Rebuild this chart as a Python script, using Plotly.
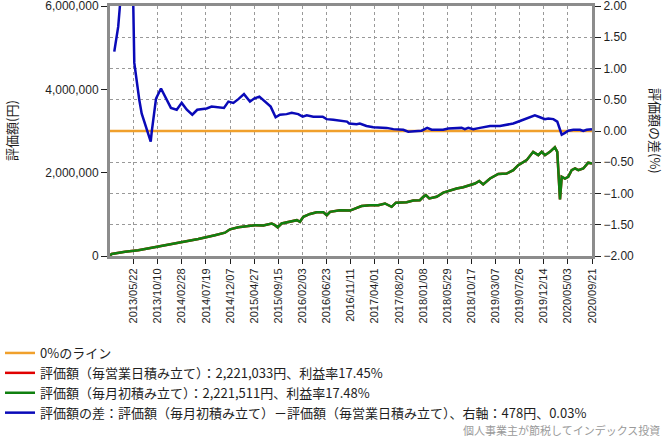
import plotly.graph_objects as go

# ---- data ----
tick_dates = ["2013-05-22", "2013-10-10", "2014-02-28", "2014-07-19", "2014-12-07",
              "2015-04-27", "2015-09-15", "2016-02-03", "2016-06-23", "2016-11-11",
              "2017-04-01", "2017-08-20", "2018-01-08", "2018-05-29", "2018-10-17",
              "2019-03-07", "2019-07-26", "2019-12-14", "2020-05-03", "2020-09-21"]
tick_labels = [d.replace("-", "/") for d in tick_dates]

start_date = "2013-01-04"
end_date = "2020-09-21"

zero_line_dates = [start_date, end_date]
zero_line_values = [0.0, 0.0]

# valuation (monthly accumulation), yen
value_dates = ["2013-01-04", "2013-01-14", "2013-04-02", "2013-06-18", "2013-09-05", "2013-11-22",
               "2014-02-27", "2014-06-04", "2014-09-09", "2014-11-07", "2014-12-06", "2015-01-24",
               "2015-03-24", "2015-05-02", "2015-06-19", "2015-08-07", "2015-08-26", "2015-09-11",
               "2015-10-04", "2015-11-22", "2015-12-21", "2016-01-01", "2016-01-19", "2016-02-08",
               "2016-03-18", "2016-04-26", "2016-06-04", "2016-06-24", "2016-07-13", "2016-09-09",
               "2016-11-07", "2016-12-15", "2017-01-13", "2017-03-03", "2017-04-21", "2017-05-30",
               "2017-07-08", "2017-08-02", "2017-10-04", "2017-11-11", "2017-12-20", "2018-01-09",
               "2018-01-24", "2018-02-13", "2018-03-28", "2018-05-06", "2018-06-14", "2018-07-23",
               "2018-08-30", "2018-10-09", "2018-11-07", "2018-12-02", "2018-12-25", "2019-02-03",
               "2019-03-23", "2019-05-11", "2019-06-19", "2019-07-18", "2019-09-05", "2019-10-13",
               "2019-11-12", "2019-12-02", "2019-12-21", "2020-01-19", "2020-02-17", "2020-03-02",
               "2020-03-08", "2020-03-13", "2020-03-18", "2020-03-28", "2020-04-16", "2020-05-05",
               "2020-05-25", "2020-06-14", "2020-07-03", "2020-08-01", "2020-08-30", "2020-09-21"]
value_monthly = [10000, 50000, 100000, 140000, 200000, 260000,
                 330000, 410000, 500000, 560000, 640000, 690000,
                 720000, 740000, 730000, 780000, 740000, 690000,
                 780000, 820000, 840000, 860000, 820000, 940000,
                 1010000, 1050000, 1050000, 980000, 1060000, 1100000,
                 1090000, 1160000, 1200000, 1220000, 1220000, 1260000,
                 1180000, 1280000, 1290000, 1330000, 1340000, 1420000,
                 1460000, 1380000, 1420000, 1520000, 1570000, 1620000,
                 1650000, 1700000, 1740000, 1800000, 1720000, 1860000,
                 1970000, 1980000, 2060000, 2180000, 2300000, 2500000,
                 2420000, 2500000, 2420000, 2500000, 2610000, 2500000,
                 2140000, 1820000, 1360000, 1900000, 1860000, 1900000,
                 2060000, 2100000, 2060000, 2100000, 2240000, 2221511]
# daily accumulation coincides with the monthly one at this scale
value_daily = value_monthly

# difference (%), right axis
diff_dates = ["2013-01-29", "2013-02-12", "2013-02-21", "2013-03-03", "2013-03-25", "2013-04-25",
              "2013-05-20", "2013-05-26", "2013-06-05", "2013-06-24", "2013-07-08", "2013-07-28",
              "2013-08-16", "2013-08-30", "2013-09-05", "2013-09-20", "2013-09-30", "2013-10-29",
              "2013-12-01", "2013-12-26", "2014-01-29", "2014-02-27", "2014-03-29", "2014-04-30",
              "2014-05-29", "2014-07-23", "2014-08-21", "2014-11-01", "2014-11-27", "2014-12-26",
              "2015-01-24", "2015-02-26", "2015-04-02", "2015-04-26", "2015-05-27", "2015-06-29",
              "2015-08-01", "2015-08-30", "2015-09-24", "2015-11-02", "2015-12-02", "2016-01-09",
              "2016-02-04", "2016-02-28", "2016-04-06", "2016-05-31", "2016-06-23", "2016-08-01",
              "2016-09-28", "2016-10-20", "2016-11-02", "2016-12-15", "2017-01-03", "2017-02-11",
              "2017-03-23", "2017-06-09", "2017-07-18", "2017-09-14", "2017-10-13", "2017-11-21",
              "2017-12-30", "2018-02-01", "2018-02-27", "2018-05-05", "2018-06-04", "2018-08-21",
              "2018-09-09", "2018-09-29", "2018-10-28", "2018-12-06", "2019-02-03", "2019-04-02",
              "2019-05-11", "2019-06-19", "2019-07-28", "2019-09-05", "2019-10-23", "2019-11-22",
              "2019-12-21", "2020-01-09", "2020-02-08", "2020-03-02", "2020-03-18", "2020-03-28",
              "2020-04-16", "2020-05-05", "2020-06-04", "2020-07-13", "2020-08-01", "2020-08-21",
              "2020-09-21"]
diff_values = [1.27, 1.49, 1.67, 2.00, 2.60, 2.50,
               2.02, 1.09, 0.87, 0.50, 0.28, 0.12,
               -0.04, -0.17, -0.01, 0.34, 0.52, 0.68,
               0.50, 0.37, 0.34, 0.45, 0.34, 0.26,
               0.34, 0.36, 0.39, 0.37, 0.47, 0.45,
               0.51, 0.59, 0.47, 0.52, 0.55, 0.47,
               0.39, 0.22, 0.26, 0.27, 0.29, 0.27,
               0.23, 0.25, 0.23, 0.23, 0.19, 0.18,
               0.16, 0.15, 0.12, 0.11, 0.12, 0.08,
               0.06, 0.05, 0.03, 0.02, -0.01, 0.00,
               0.005, 0.05, 0.02, 0.02, 0.04, 0.05,
               0.03, 0.05, 0.03, 0.05, 0.08, 0.08,
               0.10, 0.12, 0.16, 0.20, 0.25, 0.22,
               0.19, 0.20, 0.19, 0.15, 0.02, -0.06,
               -0.03, 0.005, 0.02, 0.02, 0.00, 0.02,
               0.03]

names = ["0%のライン",
         "評価額（毎営業日積み立て）：2,221,033円、利益率17.45%",
         "評価額（毎月初積み立て）：2,221,511円、利益率17.48%",
         "評価額の差：評価額（毎月初積み立て）－評価額（毎営業日積み立て）、右軸：478円、0.03%"]

ORANGE = "#F0A02C"
RED = "#E00000"
GREEN = "#108010"
BLUE = "#0A0AB8"
FRAME = "#8C8C8C"
TXT = "#1E1E1E"

# plot area in pixels (for placing free text in paper coords)
L, R, T, B = 110, 592, 6, 256


def px_x(px):
    return (px - L) / (R - L)


def px_y(py):
    return (B - py) / (B - T)


fig = go.Figure()
fig.add_trace(go.Scatter(x=zero_line_dates, y=zero_line_values, name=names[0], yaxis="y2",
                         mode="lines", line=dict(color=ORANGE, width=2.5)))
fig.add_trace(go.Scatter(x=value_dates, y=value_daily, name=names[1], yaxis="y",
                         mode="lines", line=dict(color=RED, width=2.5)))
fig.add_trace(go.Scatter(x=value_dates, y=value_monthly, name=names[2], yaxis="y",
                         mode="lines", line=dict(color=GREEN, width=2.5)))
fig.add_trace(go.Scatter(x=diff_dates, y=diff_values, name=names[3], yaxis="y2",
                         mode="lines", line=dict(color=BLUE, width=2.5)))

tickfont = dict(family="Liberation Sans, Arial, sans-serif", size=12, color=TXT)

fig.update_layout(
    width=664, height=438,
    margin=dict(l=L, r=664 - R, t=T, b=438 - B, autoexpand=False),
    paper_bgcolor="white", plot_bgcolor="white",
    showlegend=True,
    legend=dict(xref="container", yref="container", x=0, y=1 - 338 / 438,
                xanchor="left", yanchor="top", orientation="v",
                font=dict(family="Noto Sans CJK JP", size=13, color=TXT),
                bgcolor="rgba(0,0,0,0)", tracegroupgap=0, itemwidth=30),
    xaxis=dict(type="date", range=[start_date, end_date],
               tickmode="array", tickvals=tick_dates, ticktext=tick_labels,
               tickangle=-90, ticks="outside", ticklen=5, tickcolor=TXT,
               tickfont=dict(family="Liberation Sans, Arial, sans-serif", size=11, color=TXT),
               showgrid=True, gridcolor="#999999", griddash="dot", gridwidth=1,
               showline=True, linecolor=FRAME, linewidth=3, mirror=True,
               zeroline=False, ticklabeloverflow="allow"),
    yaxis=dict(range=[0, 6000000], tickmode="array",
               tickvals=[0, 2000000, 4000000, 6000000],
               ticktext=["0", "2,000,000", "4,000,000", "6,000,000"],
               ticks="outside", ticklen=6, tickcolor=TXT, tickfont=tickfont,
               showgrid=False, zeroline=False, ticklabeloverflow="allow",
               showline=True, linecolor=FRAME, linewidth=3),
    yaxis2=dict(range=[-2, 2], overlaying="y", side="right",
                tickmode="linear", tick0=-2, dtick=0.5, tickformat=".2f",
                ticks="outside", ticklen=6, tickcolor=TXT, tickfont=tickfont,
                showgrid=True, gridcolor="#999999", griddash="dot", gridwidth=1,
                zeroline=False, ticklabeloverflow="allow",
                showline=True, linecolor=FRAME, linewidth=3),
    annotations=[
        dict(text="評価額(円)", xref="paper", yref="paper", x=px_x(11), y=0.5,
             xanchor="center", yanchor="middle", showarrow=False, textangle=-90,
             font=dict(family="Noto Sans CJK JP", size=13, color=TXT)),
        dict(text="評価額の差(%)", xref="paper", yref="paper", x=px_x(656), y=0.5,
             xanchor="center", yanchor="middle", showarrow=False, textangle=90,
             font=dict(family="Noto Sans CJK JP", size=13, color=TXT)),
        dict(text="個人事業主が節税してインデックス投資", xref="paper", yref="paper",
             x=px_x(662), y=px_y(430), xanchor="right", yanchor="middle",
             showarrow=False,
             font=dict(family="Noto Sans CJK JP", size=11, color="#9A9A9A")),
    ],
)

fig.write_html("out.html")
